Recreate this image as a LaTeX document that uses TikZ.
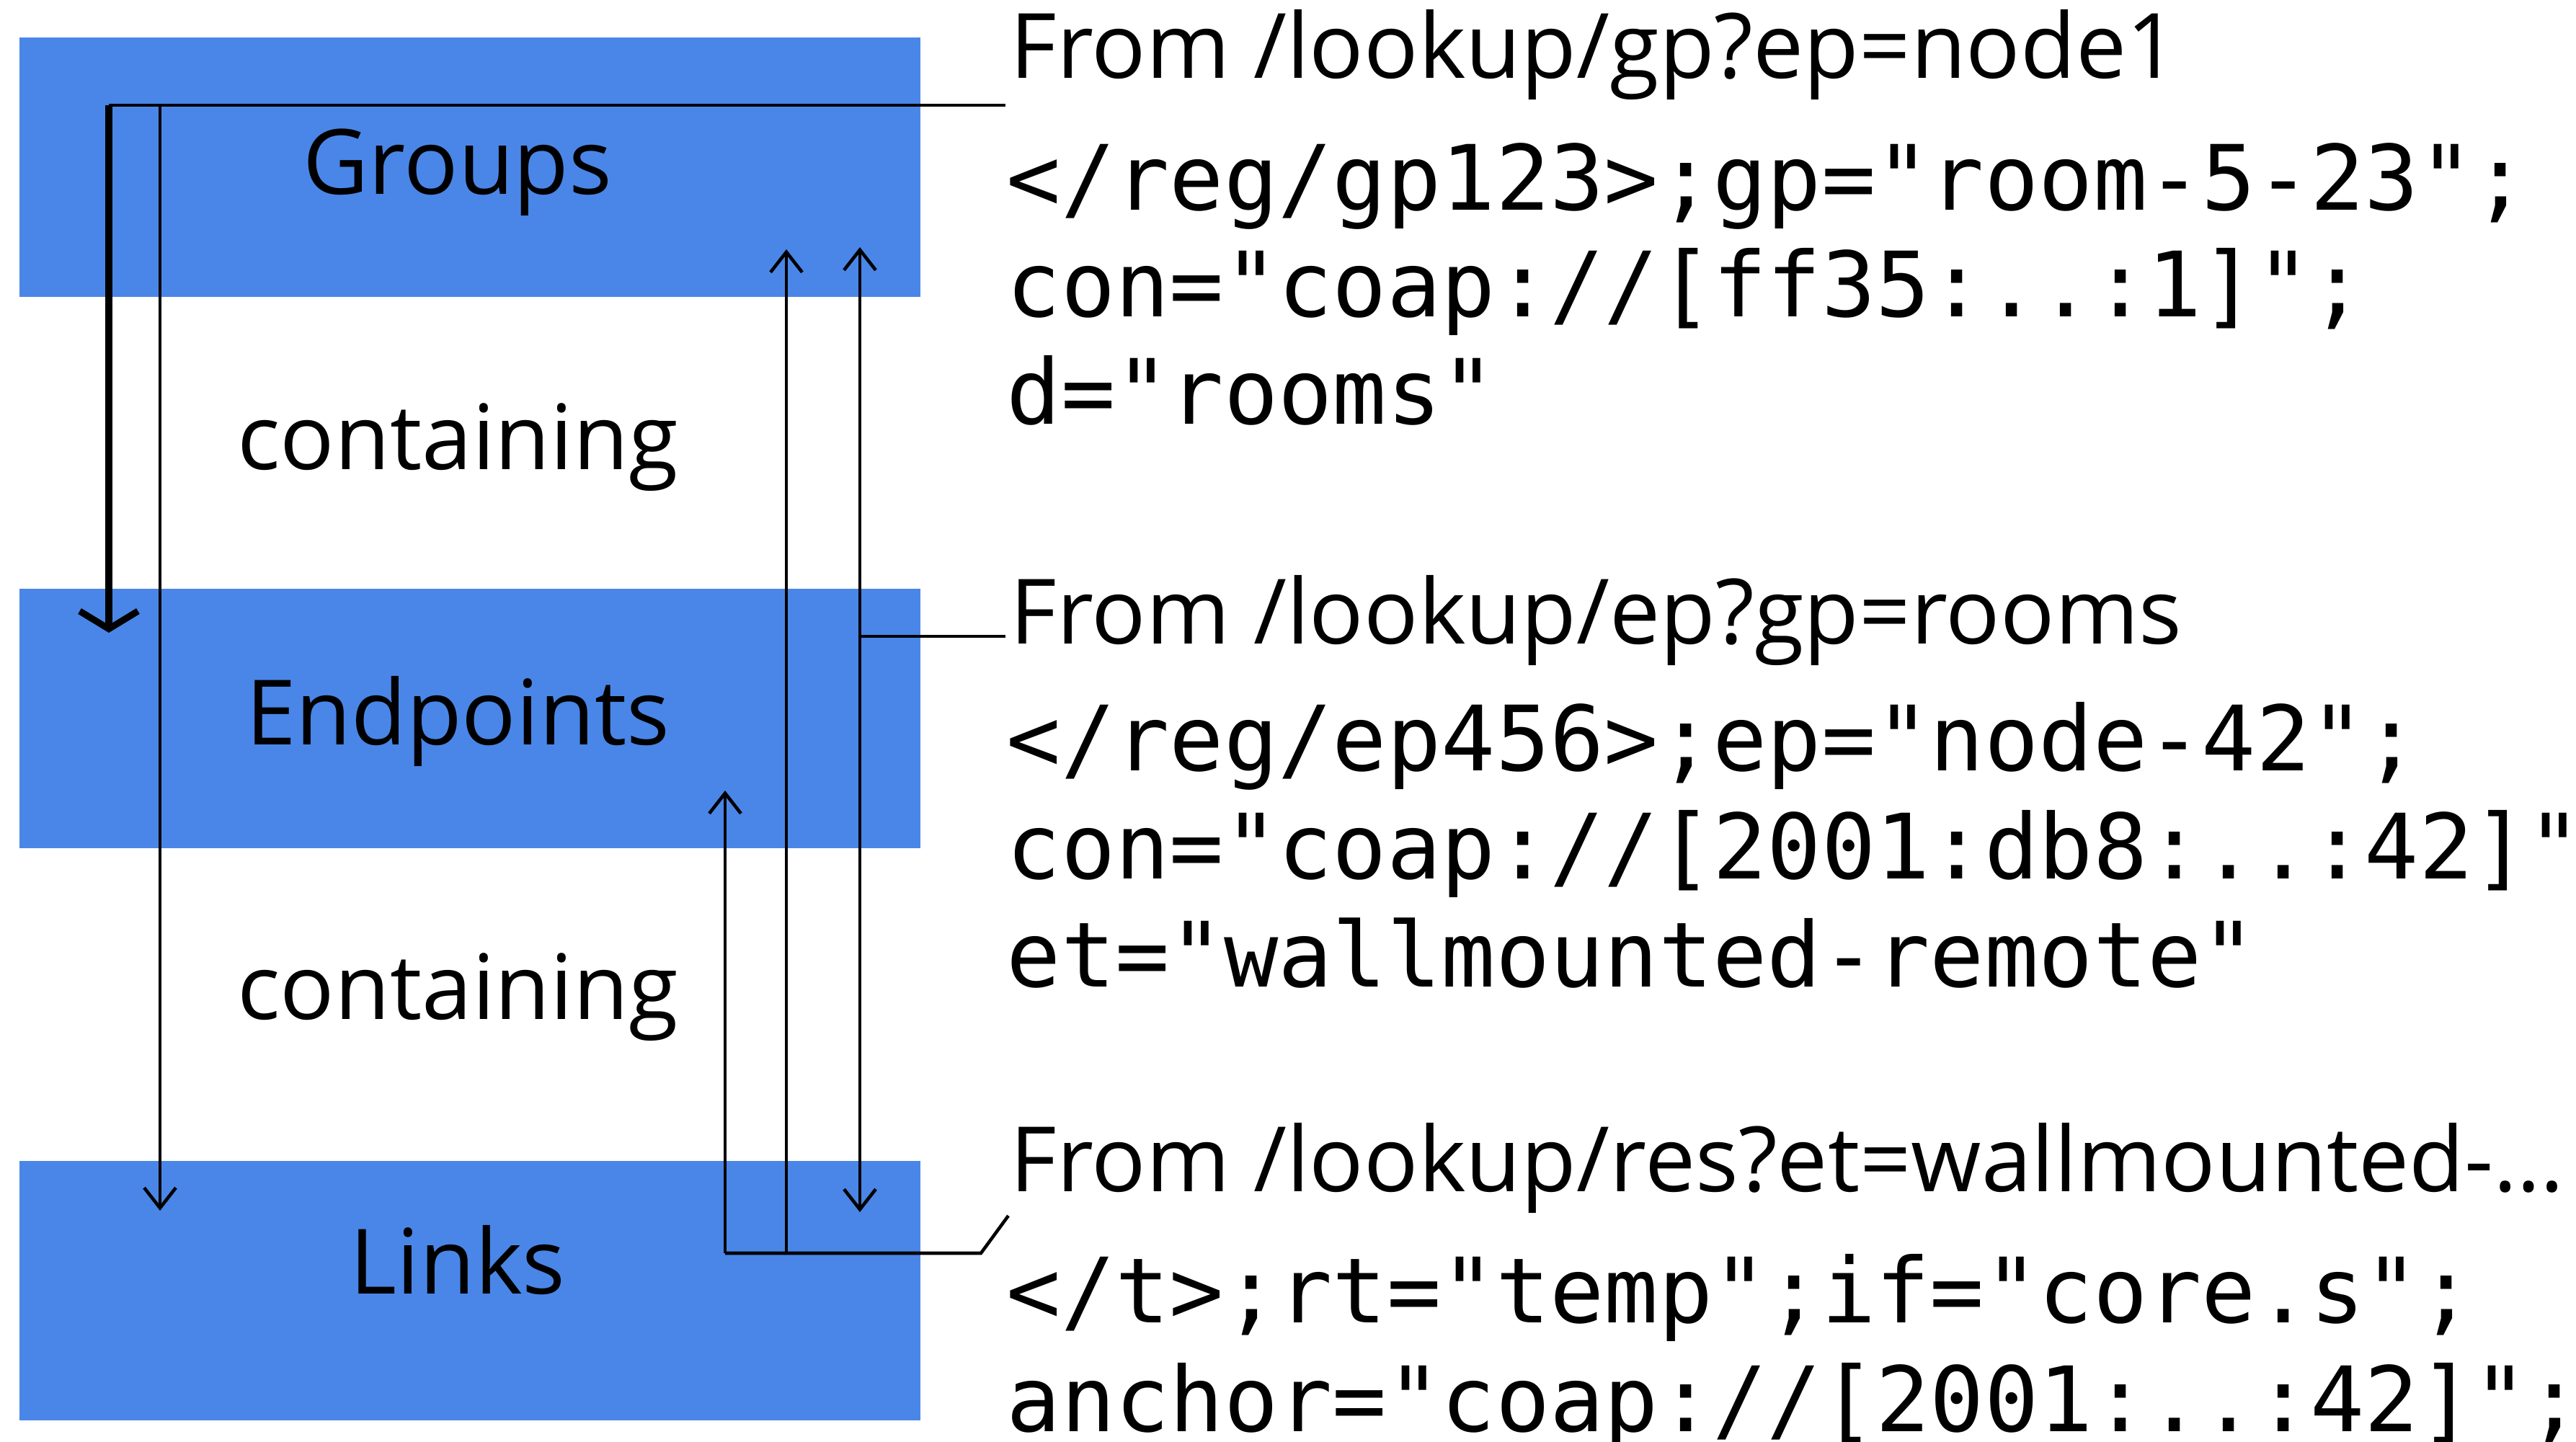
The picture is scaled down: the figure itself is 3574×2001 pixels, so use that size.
\documentclass[tikz,border=0pt]{standalone}
\usepackage{fontspec}
\setmainfont{Open Sans}
\newfontfamily\codefont{DejaVu Sans Mono}
\usetikzlibrary{arrows.meta}
\definecolor{boxblue}{HTML}{4A86E8}
\tikzset{
  layer/.style={fill=boxblue, draw=none, inner sep=0pt, minimum width=12.5cm, minimum height=3.6cm},
  lbl/.style={anchor=base, inner sep=0pt, font=\fontsize{35.6pt}{43pt}\selectfont},
  head/.style={anchor=base west, inner sep=0pt, font=\fontsize{35.6pt}{43pt}\selectfont},
  code/.style={anchor=base west, inner sep=0pt, font=\codefont\fontsize{35.6pt}{43pt}\selectfont},
  wire/.style={line width=1.3pt},
  arr/.style={line width=1.3pt, -{Straight Barb[length=8pt,width=12.5pt]}},
  bigarr/.style={line width=2.6pt, -{Straight Barb[length=7pt,width=23pt]}}
}
\begin{document}
\begin{tikzpicture}[x=0.01cm, y=-0.01cm]
\useasboundingbox (0,0) rectangle (3574,2001);
\clip (0,0) rectangle (3574,2001);
\node[layer] (groups) at (652,232) {};
\node[layer] (endpoints) at (652,997) {};
\node[layer] (links) at (652,1791) {};
\node[lbl] (groupslbl) at (635,270) {Groups};
\node[lbl] (cont1) at (635,652) {containing};
\node[lbl] (endpointslbl) at (635,1034) {Endpoints};
\node[lbl] (cont2) at (635,1415) {containing};
\node[lbl] (linkslbl) at (635,1795) {Links};

\node[head] (gphead) at (1401,109) {From /lookup/gp?ep=node1};
\node[code] (gp1) at (1396,292) {</reg/gp123>;gp="room-5-23";};
\node[code] (gp2) at (1396,440) {con="coap://[ff35:..:1]";};
\node[code] (gp3) at (1396,589) {d="rooms"};
\node[head] (ephead) at (1401,894) {From /lookup/ep?gp=rooms};
\node[code] (ep1) at (1396,1070) {</reg/ep456>;ep="node-42";};
\node[code] (ep2) at (1396,1220) {con="coap://[2001:db8:..:42]";};
\node[code] (ep3) at (1396,1370) {et="wallmounted-remote"};
\node[head] (reshead) at (1401,1653) {From /lookup/res?et=wallmounted-…};
\node[code] (res1) at (1396,1835) {</t>;rt="temp";if="core.s";};
\node[code] (res2) at (1396,1986) {anchor="coap://[2001:..:42]";};

\coordinate (gpend) at (1395,146);
\coordinate (gpa) at (151,146);
\coordinate (gpb) at (222,146);
\coordinate (gptip1) at (151,878);
\coordinate (gptip2) at (222,1680);
\draw[wire] (gpend) -- (gpa);
\draw[bigarr] (gpa) -- (gptip1);
\draw[arr] (gpb) -- (gptip2);

\coordinate (epend) at (1395,883);
\coordinate (epa) at (1193,883);
\coordinate (eptip1) at (1193,343);
\coordinate (eptip2) at (1193,1682);
\draw[wire] (epend) -- (epa);
\draw[arr] (epa) -- (eptip1);
\draw[arr] (epa) -- (eptip2);

\coordinate (resend) at (1399,1687);
\coordinate (resa) at (1361,1739);
\coordinate (resb) at (1091,1739);
\coordinate (resc) at (1006,1739);
\coordinate (restip1) at (1091,346);
\coordinate (restip2) at (1006,1097);
\draw[wire] (resend) -- (resa) -- (resc);
\draw[arr] (resb) -- (restip1);
\draw[arr] (resc) -- (restip2);
\end{tikzpicture}
\end{document}
